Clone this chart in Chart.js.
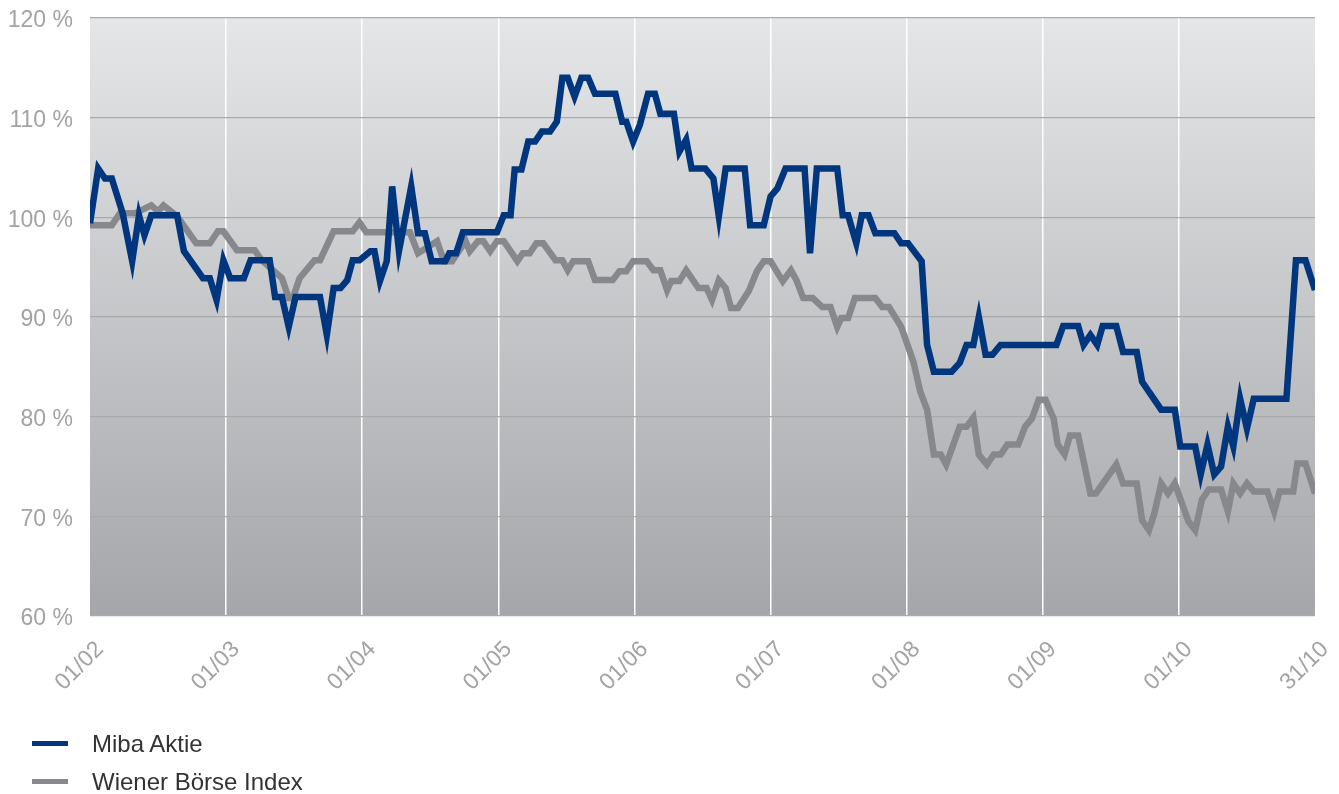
<!DOCTYPE html>
<html>
<head>
<meta charset="utf-8">
<script src="https://cdn.jsdelivr.net/npm/chart.js@4/dist/chart.umd.min.js"></script>
<style>
	body { margin: 0; background: #fff; }
	#wrap { position: relative; width: 1339px; height: 794px; }
	.leg { position: absolute; left: 32px; font: 24px "Liberation Sans", Arial, sans-serif; color: #333; }
	.leg span { display: inline-block; width: 36px; height: 5px; vertical-align: middle; margin-right: 24px; position: relative; top: -2px; }
</style>
</head>
<body>
<div id="wrap">
	<canvas id="myChart" width="1339" height="794"></canvas>
	<div class="leg" style="top:730px"><span style="background:#00367d"></span>Miba Aktie</div>
	<div class="leg" style="top:768px"><span style="background:#87888c"></span>Wiener Börse Index</div>
</div>
<script>
// x in months from 01/02 (0) to 31/10 (9)
const monthLabels = ['01/02','01/03','01/04','01/05','01/06','01/07','01/08','01/09','01/10','31/10'];

const mibaX = [0,0.06,0.11,0.16,0.24,0.31,0.36,0.40,0.45,0.64,0.69,0.83,0.88,0.93,0.98,1.03,1.13,1.18,1.32,1.36,
	1.41,1.46,1.51,1.69,1.74,1.79,1.84,1.89,1.93,1.98,2.06,2.09,2.13,2.18,2.22,2.27,2.36,2.41,2.46,2.51,
	2.61,2.64,2.69,2.74,2.99,3.04,3.09,3.12,3.17,3.22,3.27,3.32,3.38,3.43,3.47,3.51,3.56,3.61,3.66,3.71,
	3.86,3.91,3.94,3.99,4.04,4.10,4.15,4.19,4.29,4.33,4.38,4.42,4.52,4.58,4.62,4.67,4.81,4.85,4.95,5.00,
	5.05,5.11,5.25,5.29,5.34,5.49,5.53,5.57,5.63,5.67,5.72,5.77,5.91,5.96,6.01,6.11,6.15,6.20,6.33,6.39,
	6.44,6.49,6.53,6.58,6.63,6.69,7.10,7.15,7.26,7.30,7.35,7.40,7.44,7.54,7.59,7.69,7.73,7.87,7.97,8.01,
	8.12,8.16,8.21,8.26,8.31,8.36,8.40,8.45,8.50,8.55,8.79,8.86,8.93,9.00];
const mibaY = [99.4,104.9,103.9,103.9,100.4,95.6,100.2,98.2,100.2,100.2,96.6,93.9,93.9,91.7,95.7,93.9,93.9,95.7,95.7,92.0,
	92.0,89.0,92.0,92.0,88.2,92.9,92.9,93.7,95.7,95.7,96.6,96.6,93.6,95.6,103.1,96.6,103.1,98.4,98.4,95.6,
	95.6,96.4,96.4,98.5,98.5,100.2,100.2,104.8,104.8,107.6,107.6,108.6,108.6,109.6,114.0,114.0,112.1,114.0,114.0,112.4,
	112.4,109.6,109.6,107.6,109.3,112.4,112.4,110.4,110.4,106.6,107.8,104.9,104.9,103.9,100.1,104.9,104.9,99.2,99.2,102.1,
	102.9,104.9,104.9,96.4,104.9,104.9,100.2,100.2,97.4,100.2,100.2,98.4,98.4,97.4,97.4,95.6,87.2,84.5,84.5,85.4,
	87.2,87.2,90.0,86.2,86.2,87.2,87.2,89.1,89.1,87.2,88.2,87.2,89.1,89.1,86.5,86.5,83.5,80.7,80.7,77.0,
	77.0,74.2,77.2,74.2,75.0,79.0,77.0,81.8,78.8,81.8,81.8,95.7,95.7,92.7];

const wbiX = [0,0.16,0.22,0.33,0.45,0.50,0.54,0.64,0.78,0.88,0.94,0.98,1.08,1.21,1.26,1.41,1.46,1.49,1.54,1.65,
	1.69,1.79,1.93,1.98,2.03,2.35,2.41,2.48,2.55,2.60,2.66,2.71,2.76,2.79,2.85,2.89,2.94,2.99,3.04,3.14,
	3.18,3.23,3.28,3.33,3.42,3.47,3.51,3.55,3.66,3.71,3.84,3.89,3.94,3.99,4.09,4.14,4.19,4.24,4.27,4.33,
	4.38,4.47,4.53,4.57,4.62,4.67,4.71,4.76,4.84,4.90,4.95,5.00,5.09,5.15,5.19,5.24,5.31,5.38,5.44,5.49,
	5.52,5.57,5.62,5.77,5.82,5.87,5.96,6.05,6.10,6.15,6.20,6.25,6.29,6.39,6.44,6.49,6.53,6.59,6.64,6.69,
	6.74,6.82,6.87,6.92,6.97,7.02,7.08,7.11,7.16,7.20,7.26,7.35,7.39,7.54,7.59,7.69,7.73,7.78,7.82,7.87,
	7.92,7.97,8.07,8.12,8.17,8.22,8.31,8.36,8.40,8.45,8.50,8.55,8.65,8.70,8.74,8.84,8.87,8.93,9.00];
const wbiY = [99.2,99.2,100.4,100.4,101.2,100.6,101.2,100.1,97.4,97.4,98.6,98.6,96.7,96.7,95.7,93.9,91.9,91.9,93.9,95.7,
	95.7,98.6,98.6,99.5,98.5,98.5,96.4,97.0,97.6,95.6,95.6,96.6,97.6,96.6,97.6,97.6,96.6,97.6,97.6,95.6,
	96.4,96.4,97.4,97.4,95.7,95.7,94.7,95.6,95.6,93.7,93.7,94.6,94.6,95.6,95.6,94.7,94.7,92.7,93.6,93.6,
	94.7,92.9,92.9,91.7,93.7,92.9,90.9,90.9,92.6,94.6,95.6,95.6,93.6,94.7,93.7,91.9,91.9,91.0,91.0,89.0,
	89.9,89.9,91.9,91.9,91.0,91.0,89.0,85.5,82.5,80.7,76.2,76.2,75.2,79.0,79.0,79.9,76.2,75.2,76.2,76.2,
	77.2,77.2,79.0,79.8,81.7,81.7,79.8,77.2,76.2,78.1,78.1,72.3,72.3,75.2,73.3,73.3,69.6,68.6,70.3,73.3,
	72.3,73.3,69.5,68.6,71.7,72.7,72.7,70.5,73.3,72.3,73.3,72.5,72.5,70.5,72.5,72.5,75.3,75.3,72.3];

function toPoints(xs, ys) {
	return xs.map((x, i) => ({x: x, y: ys[i]}));
}

// gradient behind the plot area
const bgPlugin = {
	id: 'bg',
	beforeDraw(chart) {
		const a = chart.chartArea, c = chart.ctx;
		const g = c.createLinearGradient(0, a.top, 0, a.bottom);
		g.addColorStop(0, '#e5e6e8');
		g.addColorStop(1, '#a5a6a9');
		c.save();
		c.fillStyle = g;
		c.fillRect(a.left, a.top, a.right - a.left, a.bottom - a.top);
		c.restore();
	}
};

const tickFont = {family: '"Liberation Sans", Arial, sans-serif', size: 23};

let myChart = new Chart(document.getElementById('myChart'), {
	type: 'line',
	data: {
		datasets: [{
			label: 'Miba Aktie',
			data: toPoints(mibaX, mibaY),
			borderColor: '#00367d',
			borderWidth: 6.5,
			pointRadius: 0,
			tension: 0
		}, {
			label: 'Wiener Börse Index',
			data: toPoints(wbiX, wbiY),
			borderColor: '#87888c',
			borderWidth: 6.5,
			pointRadius: 0,
			tension: 0
		}]
	},
	options: {
		responsive: false,
		animation: false,
		layout: {padding: {top: 18, right: 24, left: 0, bottom: 0}},
		plugins: {legend: {display: false}, tooltip: {enabled: false}},
		scales: {
			x: {
				type: 'linear',
				min: 0, max: 9,
				afterFit: (s) => { s.height = 178; s.paddingLeft = 0; s.paddingRight = 0; },
				grid: {
					color: (ctx) => (ctx.index === 0 || ctx.index === 9) ? 'rgba(0,0,0,0)' : '#ffffff',
					lineWidth: 1.5,
					drawTicks: false
				},
				border: {display: false},
				ticks: {
					stepSize: 1,
					minRotation: 45, maxRotation: 45,
					padding: 20,
					labelOffset: 10,
					color: '#a3a3a3',
					font: tickFont,
					callback: (v) => monthLabels[v]
				}
			},
			y: {
				min: 60, max: 120,
				afterFit: (s) => { s.width = 90; s.paddingTop = 0; s.paddingBottom = 0; },
				grid: {color: '#a9aaac', lineWidth: 1.2, drawTicks: false},
				border: {display: false},
				ticks: {
					stepSize: 10,
					padding: 17,
					labelOffset: 3,
					color: '#a3a3a3',
					font: tickFont,
					callback: (v) => v + ' %'
				}
			}
		}
	},
	plugins: [bgPlugin]
});
</script>
</body>
</html>
